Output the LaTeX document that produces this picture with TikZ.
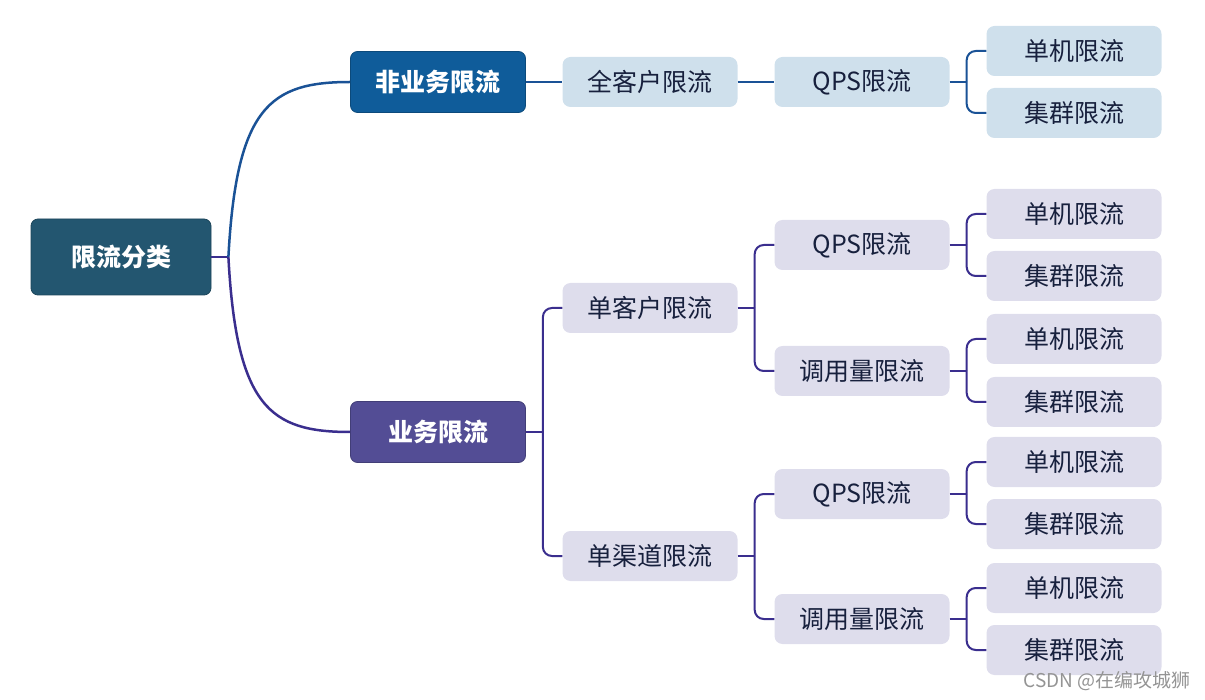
\documentclass[tikz,border=0pt]{standalone}
\usepackage{fontspec}
\setmainfont{Noto Sans CJK SC}
\usetikzlibrary{calc}
\definecolor{rootc}{HTML}{235670}
\definecolor{bluec}{HTML}{0F5C9A}
\definecolor{purc}{HTML}{534D95}
\definecolor{lblue}{HTML}{CFE0EC}
\definecolor{lpur}{HTML}{DEDDEC}
\definecolor{txt}{HTML}{17203D}
\definecolor{bline}{HTML}{1A5296}
\definecolor{pline}{HTML}{3A2E8E}
\tikzset{
  rootbox/.style={draw=rootc!80!black,line width=0.8pt,fill=rootc,rounded corners=7pt,minimum width=180pt,minimum height=76pt,inner sep=0pt,text=white,font=\bfseries\fontsize{25}{28}\selectfont},
  lonebox/.style={draw=#1!80!black,line width=0.8pt,fill=#1,rounded corners=7pt,minimum width=175pt,minimum height=61pt,inner sep=0pt,text=white,font=\bfseries\fontsize{25}{28}\selectfont},
  leaf/.style={fill=#1,rounded corners=8pt,minimum width=175pt,minimum height=50pt,inner sep=0pt,text=txt,font=\fontsize{25}{28}\selectfont},
  bcon/.style={draw=bline,line width=2pt},
  pcon/.style={draw=pline,line width=2pt},
}
\begin{document}
\begin{tikzpicture}[x=1pt,y=-1pt]
\useasboundingbox (0,0) rectangle (1205,700);
% nodes
\node[rootbox] (root) at (121,257) {限流分类};
\node[lonebox=bluec] (nb) at (438,82) {非业务限流};
\node[lonebox=purc] (yb) at (438,432) {业务限流};
% upper branch
\node[leaf=lblue] (qkh) at (650,82) {全客户限流};
\node[leaf=lblue] (qps0) at (862,82) {QPS限流};
\node[leaf=lblue] (dj0) at (1074,51) {单机限流};
\node[leaf=lblue] (jq0) at (1074,113) {集群限流};
% lower branch
\node[leaf=lpur] (dkh) at (650,308) {单客户限流};
\node[leaf=lpur] (qps1) at (862,245) {QPS限流};
\node[leaf=lpur] (dyl1) at (862,371) {调用量限流};
\node[leaf=lpur] (dj1) at (1074,214) {单机限流};
\node[leaf=lpur] (jq1) at (1074,276) {集群限流};
\node[leaf=lpur] (dj2) at (1074,339) {单机限流};
\node[leaf=lpur] (jq2) at (1074,402) {集群限流};
\node[leaf=lpur] (dqd) at (650,556) {单渠道限流};
\node[leaf=lpur] (qps2) at (862,494) {QPS限流};
\node[leaf=lpur] (dyl2) at (862,619) {调用量限流};
\node[leaf=lpur] (dj3) at (1074,462) {单机限流};
\node[leaf=lpur] (jq3) at (1074,524) {集群限流};
\node[leaf=lpur] (dj4) at (1074,588) {单机限流};
\node[leaf=lpur] (jq4) at (1074,650) {集群限流};
% watermark
\node[text=black!42,font=\fontsize{19}{21}\selectfont,anchor=east,inner sep=0pt] (wm) at (1191,681) {CSDN @在编攻城狮};
% junction coordinates
\coordinate (xr) at ($(root.east)+(17,0)$);
\coordinate (xy) at ($(yb.east)+(17,0)$);
\coordinate (xk) at ($(dkh.east)+(17,0)$);
\coordinate (xd) at ($(dqd.east)+(17,0)$);
\coordinate (xq0) at ($(qps0.east)+(17,0)$);
\coordinate (xq1) at ($(qps1.east)+(17,0)$);
\coordinate (xl1) at ($(dyl1.east)+(17,0)$);
\coordinate (xq2) at ($(qps2.east)+(17,0)$);
\coordinate (xl2) at ($(dyl2.east)+(17,0)$);
% root connectors
\draw[pcon] (root.east) -- (xr);
\draw[bcon,line width=2.5pt] (xr) .. controls ($(xr)+(8,-150)$) and ($(nb.west)+(-80,0)$) .. (nb.west);
\draw[pcon,line width=2.5pt] (xr) .. controls ($(xr)+(8,150)$) and ($(yb.west)+(-80,0)$) .. (yb.west);
% upper chain
\draw[bcon] (nb.east) -- (qkh.west);
\draw[bcon] (qkh.east) -- (qps0.west);
\draw[bcon] (qps0.east) -- (xq0);
\draw[bcon,rounded corners=9pt] (xq0) |- (dj0.west);
\draw[bcon,rounded corners=9pt] (xq0) |- (jq0.west);
% lower
\draw[pcon] (yb.east) -- (xy);
\draw[pcon,rounded corners=9pt] (xy) |- (dkh.west);
\draw[pcon,rounded corners=9pt] (xy) |- (dqd.west);
\draw[pcon] (dkh.east) -- (xk);
\draw[pcon,rounded corners=9pt] (xk) |- (qps1.west);
\draw[pcon,rounded corners=9pt] (xk) |- (dyl1.west);
\draw[pcon] (dqd.east) -- (xd);
\draw[pcon,rounded corners=9pt] (xd) |- (qps2.west);
\draw[pcon,rounded corners=9pt] (xd) |- (dyl2.west);
\draw[pcon] (qps1.east) -- (xq1);
\draw[pcon,rounded corners=9pt] (xq1) |- (dj1.west);
\draw[pcon,rounded corners=9pt] (xq1) |- (jq1.west);
\draw[pcon] (dyl1.east) -- (xl1);
\draw[pcon,rounded corners=9pt] (xl1) |- (dj2.west);
\draw[pcon,rounded corners=9pt] (xl1) |- (jq2.west);
\draw[pcon] (qps2.east) -- (xq2);
\draw[pcon,rounded corners=9pt] (xq2) |- (dj3.west);
\draw[pcon,rounded corners=9pt] (xq2) |- (jq3.west);
\draw[pcon] (dyl2.east) -- (xl2);
\draw[pcon,rounded corners=9pt] (xl2) |- (dj4.west);
\draw[pcon,rounded corners=9pt] (xl2) |- (jq4.west);
\end{tikzpicture}
\end{document}
